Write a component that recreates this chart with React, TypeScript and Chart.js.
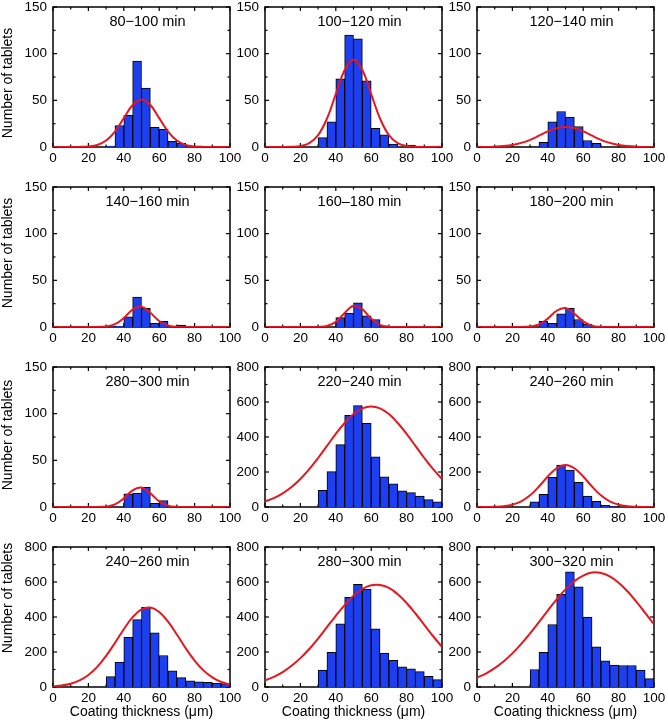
import React, { useEffect, useRef } from "react";
import { Chart, registerables } from "chart.js";

Chart.register(...registerables);

const FONT = "'Liberation Sans', Arial, Helvetica, sans-serif";

// ---------- data ----------
const BIN_CENTERS = [2.5, 7.5, 12.5, 17.5, 22.5, 27.5, 32.5, 37.5, 42.5, 47.5, 52.5, 57.5, 62.5, 67.5, 72.5, 77.5, 82.5, 87.5, 92.5, 97.5];
const CURVE_X = [0, 5, 10, 15, 20, 25, 30, 35, 40, 45, 50, 55, 60, 65, 70, 75, 80, 85, 90, 95, 100];

const X_MAJOR = [0, 20, 40, 60, 80, 100];
const X_MINOR = [10, 30, 50, 70, 90];
const Y_MAJOR_150 = [0, 50, 100, 150];
const Y_MINOR_150 = [25, 75, 125];
const Y_MAJOR_800 = [0, 200, 400, 600, 800];
const Y_MINOR_800 = [100, 300, 500, 700];

const TITLES = [
  "80−100 min", "100−120 min", "120−140 min",
  "140−160 min", "160–180 min", "180−200 min",
  "280−300 min", "220−240 min", "240−260 min",
  "240−260 min", "280−300 min", "300−320 min",
];
const Y_MAX = [150, 150, 150, 150, 150, 150, 150, 800, 800, 800, 800, 800];

const BARS_P1 = [0, 0, 0, 0, 0, 0, 1, 23, 34, 92, 63, 21, 19, 6, 4, 1, 1, 0, 0, 0];
const BARS_P2 = [0, 0, 0, 0, 0, 0, 10, 27, 73, 120, 116, 71, 20, 13, 3, 0, 2, 0, 0, 1];
const BARS_P3 = [0, 0, 0, 0, 0, 0, 0, 5, 27, 38, 32, 22, 7, 4, 0, 0, 0, 0, 0, 0];
const BARS_P4 = [0, 0, 0, 0, 0, 0, 1, 1, 11, 32, 20, 4, 6, 1, 2, 0, 0, 0, 0, 0];
const BARS_P5 = [0, 0, 0, 0, 0, 0, 0, 0, 10, 15, 26, 12, 8, 0, 0, 0, 0, 0, 0, 0];
const BARS_P6 = [0, 0, 0, 0, 0, 0, 0, 6, 4, 14, 20, 8, 3, 0, 0, 0, 0, 0, 0, 0];
const BARS_P7 = [0, 0, 0, 0, 0, 0, 0, 0, 14, 15, 21, 4, 7, 0, 0, 0, 0, 0, 0, 0];
const BARS_P8 = [0, 0, 0, 0, 0, 0, 95, 202, 356, 524, 579, 478, 286, 173, 133, 93, 82, 63, 42, 29];
const BARS_P9 = [0, 0, 0, 0, 0, 0, 30, 72, 170, 240, 211, 141, 63, 32, 10, 3, 0, 0, 0, 0];
const BARS_P10 = [0, 0, 0, 0, 0, 0, 59, 142, 284, 385, 455, 309, 180, 92, 54, 35, 29, 27, 23, 19];
const BARS_P11 = [0, 0, 0, 0, 0, 0, 96, 198, 361, 512, 587, 558, 332, 194, 152, 115, 104, 88, 61, 42];
const BARS_P12 = [0, 0, 0, 0, 0, 0, 100, 198, 357, 529, 658, 573, 399, 230, 150, 125, 123, 123, 96, 48];

const FIT_P1 = [0, 0, 0, 0.1, 0.6, 2.2, 6.9, 16.6, 30.9, 45.0, 51, 45.0, 30.9, 16.6, 6.9, 2.2, 0.6, 0.1, 0, 0, 0];
const FIT_P2 = [0, 0, 0, 0.2, 1.0, 4.1, 12.7, 30.4, 56.7, 82.5, 93.5, 82.5, 56.7, 30.4, 12.7, 4.1, 1.0, 0.2, 0, 0, 0];
const FIT_P3 = [0, 0.1, 0.4, 1.0, 2.2, 4.4, 7.7, 12.1, 16.7, 20.2, 21.5, 20.2, 16.7, 12.1, 7.7, 4.4, 2.2, 1.0, 0.4, 0.1, 0];
const FIT_P4 = [0, 0, 0, 0, 0, 0.1, 0.6, 3.0, 9.6, 18.7, 21.8, 15.2, 6.4, 1.6, 0.2, 0, 0, 0, 0, 0, 0];
const FIT_P5 = [0, 0, 0, 0, 0, 0, 0.1, 1.1, 5.5, 15.0, 22.7, 19.0, 8.8, 2.3, 0.3, 0, 0, 0, 0, 0, 0];
const FIT_P6 = [0, 0, 0, 0, 0, 0.1, 0.5, 2.8, 9.0, 17.4, 20.3, 14.2, 6.0, 1.5, 0.2, 0, 0, 0, 0, 0, 0];
const FIT_P7 = [0, 0, 0, 0, 0, 0.1, 0.5, 2.8, 9.2, 17.8, 20.8, 14.6, 6.1, 1.5, 0.2, 0, 0, 0, 0, 0, 0];
const FIT_P8 = [32, 51, 78, 114, 160, 216, 280, 349, 418, 480, 531, 564, 575, 564, 531, 480, 418, 349, 280, 216, 160];
const FIT_P9 = [0.1, 0.4, 1.4, 4.8, 13.5, 32.5, 66.8, 116.8, 174.3, 221.5, 240, 221.5, 174.3, 116.8, 66.8, 32.5, 13.5, 4.8, 1.4, 0.4, 0.1];
const FIT_P10 = [4, 9, 19, 38, 69, 115, 178, 252, 330, 399, 443, 454, 429, 373, 300, 221, 151, 95, 55, 29, 14];
const FIT_P11 = [38, 58, 85, 121, 165, 217, 277, 342, 407, 468, 521, 560, 581, 583, 566, 530, 480, 420, 355, 290, 229];
const FIT_P12 = [54, 77, 108, 146, 192, 246, 306, 371, 437, 501, 558, 605, 637, 654, 652, 632, 596, 547, 488, 424, 358];

const ALL_BARS = [BARS_P1, BARS_P2, BARS_P3, BARS_P4, BARS_P5, BARS_P6, BARS_P7, BARS_P8, BARS_P9, BARS_P10, BARS_P11, BARS_P12];
const ALL_FITS = [FIT_P1, FIT_P2, FIT_P3, FIT_P4, FIT_P5, FIT_P6, FIT_P7, FIT_P8, FIT_P9, FIT_P10, FIT_P11, FIT_P12];

const Y_TITLE = "Number of tablets";
const X_TITLE = "Coating thickness (μm)";

// ---------- layout ----------
const COL_LEFT = [53, 265, 477];
const ROW_TOP = [7, 187, 367, 547];
const PLOT_W = 177;
const PLOT_H = 140;
const AXIS_W = [53, 45, 45];
const TOP_PAD = 16;
const RIGHT_PAD = 16;
const AXIS_H = [24, 24, 24, 36];
const YTITLE_SHIFT = [6, -4, -2, -19];

const BLUE = "#1c3ff2";
const RED = "#e8161e";

type PanelProps = { idx: number };

function Panel({ idx }: PanelProps) {
  const ref = useRef<HTMLCanvasElement | null>(null);
  const col = idx % 3;
  const row = Math.floor(idx / 3);
  const left = COL_LEFT[col] - AXIS_W[col];
  const top = ROW_TOP[row] - TOP_PAD;
  const width = AXIS_W[col] + PLOT_W + RIGHT_PAD;
  const height = TOP_PAD + PLOT_H + AXIS_H[row];

  useEffect(() => {
    if (!ref.current) return;
    const yMax = Y_MAX[idx];
    const yMajor = yMax === 150 ? Y_MAJOR_150 : Y_MAJOR_800;
    const yMinor = yMax === 150 ? Y_MINOR_150 : Y_MINOR_800;
    const bars = ALL_BARS[idx];
    const fit = ALL_FITS[idx];

    const deco = {
      id: "deco" + idx,
      beforeDatasetsDraw(chart: any) {
        const { ctx, chartArea: a, scales } = chart;
        const xs = scales.x;
        const ys = scales.y;
        ctx.save();
        ctx.strokeStyle = "#000";
        ctx.lineWidth = 1.2;
        const seg = (x1: number, y1: number, x2: number, y2: number) => {
          ctx.beginPath();
          ctx.moveTo(x1, y1);
          ctx.lineTo(x2, y2);
          ctx.stroke();
        };
        const xt = (vals: number[], len: number) => {
          for (const v of vals) {
            const px = xs.getPixelForValue(v);
            seg(px, a.bottom, px, a.bottom - len);
            seg(px, a.top, px, a.top + len);
          }
        };
        const yt = (vals: number[], len: number) => {
          for (const v of vals) {
            const py = ys.getPixelForValue(v);
            seg(a.left, py, a.left + len, py);
            seg(a.right, py, a.right - len, py);
          }
        };
        xt(X_MAJOR, 4);
        xt(X_MINOR, 2.5);
        yt(yMajor, 4);
        yt(yMinor, 2.5);
        ctx.lineWidth = 1.5;
        ctx.strokeRect(a.left, a.top, a.right - a.left, a.bottom - a.top);
        ctx.restore();
      },
      afterDraw(chart: any) {
        const { ctx, chartArea: a } = chart;
        ctx.save();
        ctx.fillStyle = "#000";
        ctx.font = `14.5px ${FONT}`;
        ctx.textAlign = "center";
        ctx.textBaseline = "middle";
        ctx.fillText(TITLES[idx], (a.left + a.right) / 2 + 6, a.top + 15);
        if (col === 0) {
          ctx.font = `14px ${FONT}`;
          ctx.translate(8, (a.top + a.bottom) / 2 + YTITLE_SHIFT[row]);
          ctx.rotate(-Math.PI / 2);
          ctx.fillText(Y_TITLE, 0, 0);
        }
        ctx.restore();
      },
    };

    const tickFont = { size: 13.5, family: FONT };
    const chart = new Chart(ref.current, {
      type: "bar",
      data: {
        datasets: [
          {
            type: "line",
            data: CURVE_X.map((x, i) => ({ x, y: fit[i] })),
            borderColor: RED,
            borderWidth: 2,
            pointRadius: 0,
            tension: 0.4,
            fill: false,
            order: 1,
          } as any,
          {
            type: "bar",
            data: BIN_CENTERS.map((x, i) => ({ x, y: bars[i] })),
            backgroundColor: BLUE,
            borderColor: "#000",
            borderWidth: 1,
            barPercentage: 1,
            categoryPercentage: 1,
            order: 2,
          } as any,
        ],
      },
      options: {
        responsive: false,
        animation: false,
        events: [],
        layout: { padding: { left: 0, right: RIGHT_PAD, top: TOP_PAD, bottom: 0 } },
        plugins: { legend: { display: false }, tooltip: { enabled: false } },
        scales: {
          x: {
            type: "linear",
            min: 0,
            max: 100,
            offset: false,
            ticks: { stepSize: 20, padding: 3, font: tickFont, color: "#000", maxRotation: 0, autoSkip: false },
            grid: { display: false, drawTicks: false, offset: false },
            border: { display: false },
            title: row === 3
              ? { display: true, text: X_TITLE, font: { size: 14, family: FONT }, color: "#000", padding: { top: 0, bottom: 2 } }
              : { display: false },
            afterFit: (s: any) => { s.height = AXIS_H[row]; },
          },
          y: {
            type: "linear",
            min: 0,
            max: yMax,
            ticks: { stepSize: yMax === 150 ? 50 : 200, padding: 6, font: tickFont, color: "#000" },
            grid: { display: false, drawTicks: false },
            border: { display: false },
            afterFit: (s: any) => { s.width = AXIS_W[col]; },
          },
        },
      } as any,
      plugins: [deco],
    });
    return () => chart.destroy();
  }, [idx]);

  return (
    <canvas
      ref={ref}
      width={width}
      height={height}
      style={{ position: "absolute", left, top, width, height }}
    />
  );
}

export default function App() {
  return (
    <div style={{ position: "absolute", left: 0, top: 0, width: 668, height: 722, overflow: "hidden", background: "#fff" }}>
      {TITLES.map((_, i) => (
        <Panel key={i} idx={i} />
      ))}
    </div>
  );
}
